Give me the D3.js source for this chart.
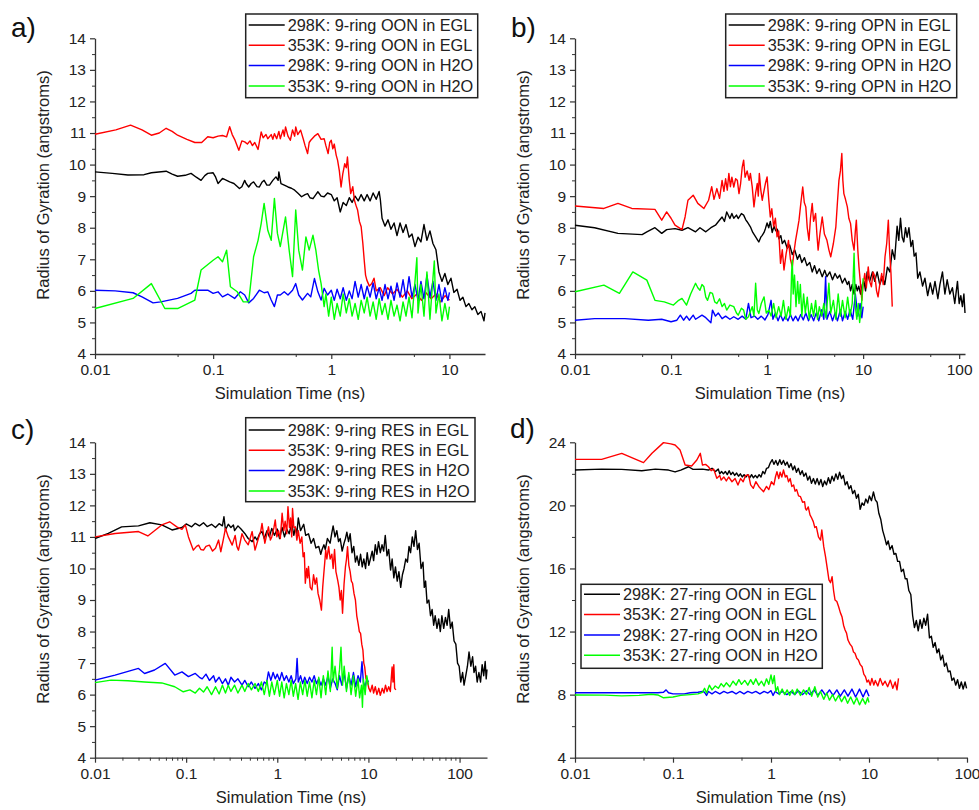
<!DOCTYPE html>
<html><head><meta charset="utf-8">
<script src="https://cdn.jsdelivr.net/npm/d3@7"></script>
<style>body{margin:0;background:#fff}svg{display:block}text{font-family:'Liberation Sans',Arial,sans-serif;fill:#222}</style>
</head><body><svg id="chart" width="979" height="810"></svg>
<script>
// ---------- data ----------
const xTickValues = [0.01, 0.1, 1, 10, 100];
const xTickLabels = ["0.01", "0.1", "1", "10", "100"];
const yTicks9 = [4, 5, 6, 7, 8, 9, 10, 11, 12, 13, 14];
const yTicks27 = [4, 8, 12, 16, 20, 24];
const seriesColors = ["#000000", "#ff0000", "#0000ff", "#00ff00"];
const legendA = ["298K: 9-ring OON in EGL", "353K: 9-ring OON in EGL", "298K: 9-ring OON in H2O", "353K: 9-ring OON in H2O"];
const legendB = ["298K: 9-ring OPN in EGL", "353K: 9-ring OPN in EGL", "298K: 9-ring OPN in H2O", "353K: 9-ring OPN in H2O"];
const legendC = ["298K: 9-ring RES in EGL", "353K: 9-ring RES in EGL", "298K: 9-ring RES in H2O", "353K: 9-ring RES in H2O"];
const legendD = ["298K: 27-ring OON in EGL", "353K: 27-ring OON in EGL", "298K: 27-ring OON in H2O", "353K: 27-ring OON in H2O"];

// panel a : 9-ring OON
const a298EGL = [[0.01,9.77],[0.014,9.72],[0.019,9.67],[0.026,9.68],[0.03,9.74],[0.04,9.79],[0.045,9.7],[0.05,9.63],[0.058,9.66],[0.065,9.72],[0.072,9.6],[0.079,9.5],[0.085,9.65],[0.09,9.72],[0.1,9.74],[0.105,9.6],[0.11,9.4],[0.12,9.56],[0.13,9.5],[0.138,9.45],[0.15,9.4],[0.167,9.24],[0.175,9.3],[0.185,9.5],[0.19,9.4],[0.2,9.29],[0.21,9.4],[0.22,9.45],[0.235,9.3],[0.246,9.29],[0.26,9.45],[0.27,9.5],[0.285,9.35],[0.3,9.35],[0.32,9.5],[0.34,9.61],[0.355,9.5],[0.36,9.77],[0.375,9.4],[0.4,9.35],[0.43,9.29],[0.46,9.25],[0.49,9.19],[0.52,9.1],[0.56,8.98],[0.6,9.05],[0.63,9.08],[0.66,8.95],[0.7,8.92],[0.74,9.05],[0.77,9.14],[0.82,9.0],[0.87,8.98],[0.93,9.1],[1.0,9.05],[1.06,8.85],[1.12,8.95],[1.19,8.5],[1.26,8.8],[1.34,8.7],[1.42,8.95],[1.5,8.8],[1.59,9.0],[1.69,8.85],[1.79,9.05],[1.9,8.85],[2.01,9.05],[2.13,8.85],[2.26,9.1],[2.4,8.9],[2.54,9.15],[2.6,8.9],[2.69,8.3],[2.85,8.05],[3.02,8.25],[3.2,7.95],[3.4,8.15],[3.6,7.75],[3.82,8.15],[4.05,7.85],[4.29,8.1],[4.55,7.7],[4.82,7.8],[5.11,7.4],[5.42,7.7],[5.74,7.55],[6.09,8.1],[6.45,7.6],[6.84,7.9],[7.25,7.5],[7.69,7.3],[8.15,6.6],[8.64,6.3],[9.15,6.55],[9.7,6.2],[10.3,6.4],[10.9,5.95],[11.6,6.05],[12.3,5.7],[13.0,5.8],[13.8,5.5],[14.6,5.6],[15.5,5.4],[16.4,5.5],[17.4,5.25],[18.5,5.35],[19.6,5.05],[20,5.3]];
const a353EGL = [[0.01,10.96],[0.015,11.1],[0.02,11.25],[0.025,11.1],[0.03,10.93],[0.035,11.0],[0.04,11.15],[0.045,11.05],[0.05,10.93],[0.06,10.8],[0.07,10.7],[0.08,10.7],[0.09,10.88],[0.1,10.85],[0.11,10.9],[0.12,10.92],[0.13,10.88],[0.138,11.2],[0.145,10.95],[0.152,10.8],[0.165,10.45],[0.175,10.75],[0.185,10.72],[0.195,10.65],[0.205,10.75],[0.215,10.6],[0.225,10.7],[0.24,10.48],[0.255,11.03],[0.265,10.85],[0.28,10.95],[0.29,10.82],[0.31,10.95],[0.32,10.8],[0.33,10.98],[0.345,10.82],[0.36,11.05],[0.37,10.82],[0.39,11.1],[0.4,10.9],[0.41,11.19],[0.43,10.9],[0.45,10.77],[0.47,11.1],[0.49,10.9],[0.5,11.19],[0.52,10.95],[0.55,11.09],[0.58,10.8],[0.6,10.6],[0.63,10.35],[0.65,10.7],[0.67,10.77],[0.72,10.9],[0.77,10.98],[0.82,10.8],[0.87,10.82],[0.9,10.6],[0.94,10.35],[0.97,10.7],[1.0,10.77],[1.03,10.5],[1.06,10.65],[1.1,10.3],[1.13,10.14],[1.17,9.8],[1.21,9.29],[1.25,9.7],[1.3,10.03],[1.34,9.9],[1.37,10.24],[1.42,9.5],[1.46,9.08],[1.52,9.3],[1.57,8.87],[1.62,8.7],[1.67,8.56],[1.73,8.2],[1.79,8.03],[1.85,7.5],[1.9,6.97],[1.95,6.5],[2.0,6.34],[2.1,6.15],[2.2,6.23],[2.3,6.4],[2.4,6.0],[2.6,6.1],[2.8,5.85],[3.0,6.1],[3.3,5.9],[3.6,6.05],[4.0,5.8],[4.4,6.0],[4.8,5.75],[5.3,5.9],[5.8,5.7],[6.3,5.95],[7.0,5.75],[7.7,5.9],[8.4,5.65],[9.2,5.85],[10,5.7]];
const a298H2O = [[0.01,6.02],[0.0148,6.0],[0.021,5.94],[0.025,5.81],[0.031,5.62],[0.036,5.65],[0.05,5.76],[0.065,5.92],[0.07,6.02],[0.09,6.02],[0.1,5.92],[0.11,5.97],[0.12,5.81],[0.133,5.9],[0.152,5.76],[0.17,5.97],[0.185,5.87],[0.2,5.62],[0.22,5.76],[0.246,6.02],[0.27,5.94],[0.29,5.97],[0.31,5.71],[0.33,5.5],[0.35,5.87],[0.37,5.87],[0.4,5.97],[0.43,5.87],[0.47,6.02],[0.5,6.23],[0.53,5.87],[0.57,5.71],[0.63,5.92],[0.67,5.81],[0.72,6.39],[0.77,5.97],[0.82,5.71],[0.87,6.08],[0.93,5.87],[1.0,6.02],[1.06,5.7],[1.12,6.05],[1.19,5.75],[1.26,6.1],[1.34,5.7],[1.42,6.0],[1.5,5.75],[1.59,6.3],[1.69,5.8],[1.79,6.2],[1.9,5.75],[2.01,6.15],[2.13,5.8],[2.26,6.25],[2.4,5.75],[2.54,6.1],[2.69,5.7],[2.85,6.2],[3.02,5.75],[3.2,6.15],[3.4,5.7],[3.6,6.25],[3.82,5.8],[4.05,6.35],[4.29,5.75],[4.55,6.45],[4.82,5.8],[5.11,6.2],[5.42,5.7],[5.74,6.3],[6.09,5.75],[6.45,6.5],[6.84,5.8],[7.25,6.3],[7.69,5.7],[8.15,6.2],[8.64,5.65],[9.15,6.1],[9.7,5.7],[10,5.95]];
const a353H2O = [[0.01,5.44],[0.021,5.76],[0.03,6.23],[0.039,5.44],[0.05,5.44],[0.07,5.71],[0.079,6.66],[0.1,6.97],[0.11,7.08],[0.12,6.92],[0.13,7.29],[0.14,6.13],[0.16,5.97],[0.18,5.65],[0.2,5.65],[0.22,7.08],[0.24,7.6],[0.255,8.13],[0.27,8.77],[0.29,7.92],[0.31,7.6],[0.33,8.93],[0.35,7.82],[0.37,7.4],[0.41,8.34],[0.44,7.29],[0.47,6.45],[0.5,8.56],[0.53,7.29],[0.57,6.66],[0.61,7.71],[0.65,7.29],[0.7,7.76],[0.74,7.29],[0.78,6.66],[0.82,6.23],[0.87,5.5],[0.9,5.9],[0.95,5.2],[1.0,5.8],[1.06,5.1],[1.12,5.6],[1.19,5.2],[1.26,5.9],[1.34,5.3],[1.42,5.75],[1.5,5.2],[1.59,5.6],[1.69,5.1],[1.79,5.7],[1.9,5.3],[2.01,5.8],[2.13,5.2],[2.26,5.65],[2.4,5.1],[2.54,5.75],[2.69,5.25],[2.85,5.6],[3.02,5.1],[3.2,5.7],[3.4,5.2],[3.6,5.55],[3.82,5.05],[4.05,5.65],[4.29,5.2],[4.55,5.8],[4.82,5.15],[5.11,6.3],[5.3,7.05],[5.42,5.3],[5.74,6.2],[6.09,5.2],[6.45,6.6],[6.84,5.1],[7.25,6.4],[7.45,6.95],[7.69,5.3],[8.15,5.9],[8.64,5.05],[9.15,5.6],[9.7,5.1],[10,5.5]];

// panel b : 9-ring OPN
const b298EGL = [[0.01,8.08],[0.016,8.0],[0.028,7.82],[0.05,7.78],[0.056,7.87],[0.068,8.0],[0.08,7.82],[0.09,7.94],[0.11,7.97],[0.13,7.92],[0.15,8.0],[0.18,7.87],[0.2,8.0],[0.23,7.87],[0.26,8.0],[0.29,8.08],[0.31,8.19],[0.34,8.34],[0.36,8.2],[0.38,8.5],[0.41,8.29],[0.43,8.45],[0.45,8.3],[0.48,8.4],[0.5,8.29],[0.54,8.45],[0.57,8.4],[0.6,8.25],[0.62,8.19],[0.67,8.03],[0.71,7.85],[0.76,7.71],[0.8,7.6],[0.82,7.55],[0.86,7.7],[0.89,7.76],[0.93,7.85],[0.96,7.97],[1.0,8.15],[1.04,8.0],[1.08,8.2],[1.13,7.85],[1.18,8.05],[1.23,7.9],[1.28,7.95],[1.33,7.65],[1.39,7.75],[1.44,7.5],[1.52,7.6],[1.62,7.35],[1.72,7.45],[1.83,7.15],[1.94,7.3],[2.07,7.0],[2.18,7.15],[2.3,6.9],[2.45,7.05],[2.6,6.8],[2.78,6.9],[2.95,6.6],[3.12,6.8],[3.3,6.55],[3.5,6.7],[3.75,6.45],[3.98,6.65],[4.2,6.45],[4.5,6.6],[4.8,6.35],[5.1,6.55],[5.4,6.4],[5.7,6.5],[6.07,6.25],[6.45,6.4],[6.85,6.2],[7.1,6.3],[7.4,6.0],[7.7,6.2],[8.05,5.9],[8.4,6.2],[8.7,6.0],[9.0,6.15],[9.4,5.9],[9.8,6.2],[10.2,6.3],[10.6,6.0],[11,6.6],[11.7,6.3],[12.5,6.6],[13.2,6.3],[14,6.6],[14.9,6.2],[15.9,6.45],[16.8,6.2],[17.9,6.75],[19,6.6],[20.1,7.3],[21.3,7.0],[22.6,8.05],[23.5,7.6],[24.5,8.3],[25.5,7.7],[26.5,7.55],[27.6,8.0],[28.7,7.7],[30,8.0],[31.5,7.4],[32.8,7.6],[34,7.1],[35.5,7.2],[37,6.4],[39,6.6],[41.6,6.15],[44,6.4],[47,5.85],[50,6.25],[53,5.9],[56,6.3],[60,5.75],[63,6.2],[67,6.6],[71,5.9],[75,6.35],[80,5.9],[85,6.1],[90,5.6],[96,6.3],[100,5.6],[104,5.85],[108,5.5],[112,5.9],[115,5.3]];
const b353EGL = [[0.01,8.69],[0.02,8.61],[0.028,8.77],[0.039,8.61],[0.068,8.58],[0.08,8.24],[0.09,8.5],[0.1,8.3],[0.11,8.08],[0.13,7.94],[0.14,8.34],[0.15,8.87],[0.17,9.03],[0.19,8.77],[0.22,8.61],[0.246,8.87],[0.265,9.3],[0.28,8.9],[0.3,9.24],[0.32,8.93],[0.34,9.5],[0.355,9.15],[0.37,9.55],[0.385,9.19],[0.4,9.72],[0.415,9.3],[0.43,9.6],[0.45,9.29],[0.47,9.55],[0.49,9.5],[0.51,9.08],[0.53,9.4],[0.55,9.9],[0.57,10.14],[0.59,9.6],[0.62,9.8],[0.65,9.5],[0.67,9.72],[0.7,9.3],[0.73,8.66],[0.76,9.1],[0.79,9.4],[0.81,9.0],[0.83,9.72],[0.86,9.2],[0.89,8.87],[0.92,9.1],[0.96,9.4],[1.0,9.61],[1.04,8.9],[1.08,8.34],[1.12,8.6],[1.17,8.03],[1.22,8.3],[1.27,7.71],[1.32,7.9],[1.38,6.87],[1.44,7.3],[1.5,6.66],[1.55,7.0],[1.58,7.19],[1.63,7.4],[1.67,7.6],[1.75,7.0],[1.83,6.76],[1.9,7.2],[1.98,7.6],[2.06,7.9],[2.15,8.24],[2.25,8.8],[2.35,9.29],[2.44,8.8],[2.53,8.66],[2.62,8.0],[2.73,7.6],[2.83,8.3],[2.95,8.77],[3.05,8.2],[3.2,8.45],[3.3,7.8],[3.4,7.29],[3.55,7.8],[3.75,8.34],[3.95,7.8],[4.2,7.6],[4.4,7.3],[4.6,7.08],[4.9,7.5],[5.2,8.03],[5.4,8.8],[5.6,9.5],[5.8,9.8],[6.0,10.35],[6.15,9.5],[6.3,9.08],[6.55,8.9],[6.85,8.66],[7.1,8.3],[7.4,8.13],[7.7,7.6],[8.05,7.29],[8.3,7.9],[8.5,8.24],[8.8,7.3],[9.05,6.76],[9.4,6.2],[9.7,5.7],[10.0,6.2],[10.4,6.55],[10.8,6.1],[11.3,6.76],[11.7,6.3],[12.2,6.13],[12.7,6.6],[13.3,6.45],[13.8,6.0],[14.3,5.81],[14.9,6.2],[15.6,6.55],[16.2,6.2],[16.9,7.08],[17.6,7.5],[18.3,8.24],[18.9,7.2],[19.5,6.55],[20.1,5.5]];
const b298H2O = [[0.01,5.07],[0.016,5.12],[0.033,5.12],[0.058,5.07],[0.08,5.1],[0.1,5.02],[0.115,5.07],[0.125,5.23],[0.135,5.07],[0.145,5.2],[0.155,5.07],[0.17,5.23],[0.18,5.1],[0.21,5.23],[0.23,5.15],[0.26,4.99],[0.27,5.39],[0.29,5.2],[0.31,5.3],[0.34,5.12],[0.37,5.2],[0.41,5.1],[0.45,5.18],[0.5,5.1],[0.55,5.2],[0.6,5.1],[0.64,5.6],[0.68,5.15],[0.74,5.2],[0.8,5.1],[0.87,5.2],[0.95,5.08],[1.02,5.25],[1.1,5.7],[1.15,5.1],[1.22,5.3],[1.3,5.05],[1.38,5.25],[1.46,5.05],[1.55,5.2],[1.65,5.05],[1.75,5.25],[1.86,5.05],[1.98,5.2],[2.1,5.05],[2.24,5.25],[2.38,5.08],[2.53,5.3],[2.7,5.05],[2.87,5.25],[3.05,5.05],[3.25,5.3],[3.45,5.05],[3.7,5.4],[3.9,5.1],[4.07,6.45],[4.2,5.1],[4.5,5.35],[4.8,5.05],[5.1,5.3],[5.4,5.05],[5.8,5.4],[6.1,5.05],[6.5,5.35],[6.9,5.1],[7.3,5.4],[7.8,5.1],[8.3,5.9],[8.8,5.2],[9.3,5.6],[9.7,5.15],[10,5.5]];
const b353H2O = [[0.01,5.97],[0.02,6.18],[0.029,5.92],[0.04,6.6],[0.056,6.34],[0.068,5.7],[0.085,5.65],[0.106,5.55],[0.12,5.7],[0.13,5.76],[0.145,5.55],[0.16,5.9],[0.18,6.24],[0.19,6.1],[0.2,6.02],[0.21,6.2],[0.22,6.13],[0.23,5.8],[0.24,5.7],[0.255,5.95],[0.27,5.92],[0.285,5.65],[0.3,5.6],[0.32,5.75],[0.34,5.5],[0.36,5.6],[0.38,5.39],[0.41,5.55],[0.45,5.5],[0.48,5.3],[0.5,5.23],[0.54,5.45],[0.57,5.39],[0.6,5.1],[0.64,5.18],[0.7,5.5],[0.73,5.2],[0.76,6.24],[0.79,5.4],[0.82,5.28],[0.87,5.6],[0.93,5.81],[0.98,5.3],[1.04,5.39],[1.1,5.2],[1.17,5.6],[1.24,5.15],[1.32,5.5],[1.4,5.2],[1.48,5.7],[1.57,5.1],[1.67,5.5],[1.75,5.2],[1.8,6.6],[1.83,6.97],[1.87,5.9],[1.93,6.5],[2.0,5.5],[2.08,6.3],[2.15,5.6],[2.22,6.2],[2.3,5.2],[2.4,5.9],[2.5,5.3],[2.62,5.8],[2.75,5.1],[2.9,5.6],[3.05,5.2],[3.2,5.7],[3.35,5.1],[3.5,5.5],[3.7,5.2],[3.9,5.6],[4.1,5.15],[4.4,6.24],[4.6,5.3],[4.9,5.7],[5.2,5.1],[5.5,5.9],[5.8,5.2],[6.1,5.7],[6.5,5.15],[6.9,5.8],[7.3,5.2],[7.7,5.6],[8.05,7.19],[8.3,5.5],[8.6,5.1],[8.9,5.6],[9.2,5.0],[9.6,5.5],[10,6.4]];

// panel c : 9-ring RES
const c298EGL = [[0.01,10.95],[0.014,11.11],[0.0196,11.32],[0.03,11.35],[0.04,11.45],[0.054,11.38],[0.07,11.22],[0.09,11.3],[0.1,11.41],[0.115,11.32],[0.126,11.43],[0.14,11.35],[0.155,11.45],[0.17,11.33],[0.19,11.4],[0.21,11.3],[0.23,11.42],[0.25,11.35],[0.26,11.64],[0.27,11.22],[0.29,11.4],[0.31,11.3],[0.33,11.38],[0.34,11.2],[0.37,11.35],[0.4,11.25],[0.44,11.11],[0.48,10.95],[0.53,10.85],[0.57,11.0],[0.6,10.9],[0.64,11.1],[0.68,11.17],[0.72,10.95],[0.77,11.2],[0.82,11.0],[0.87,11.27],[0.93,11.05],[1.0,11.25],[1.06,10.95],[1.13,11.3],[1.2,11.0],[1.27,11.25],[1.35,11.1],[1.44,11.43],[1.52,11.05],[1.58,11.3],[1.64,11.1],[1.7,11.6],[1.8,11.2],[1.95,11.4],[2.05,11.05],[2.2,11.1],[2.35,10.8],[2.5,10.95],[2.65,10.65],[2.85,10.7],[3.0,10.45],[3.1,10.6],[3.25,10.75],[3.36,10.6],[3.55,10.95],[3.8,10.8],[3.95,11.1],[4.1,11.35],[4.3,11.0],[4.5,11.2],[4.7,10.85],[4.9,10.95],[5.15,10.55],[5.4,10.8],[5.6,10.95],[5.8,11.15],[6.05,10.85],[6.3,11.1],[6.6,10.5],[6.9,10.7],[7.2,10.2],[7.5,10.4],[7.85,10.1],[8.2,10.45],[8.55,10.05],[8.9,10.3],[9.3,10.0],[9.7,10.5],[10.1,10.1],[10.5,10.3],[11.0,10.55],[11.4,10.25],[11.9,10.75],[12.4,10.45],[12.9,10.85],[13.5,10.5],[14.1,10.75],[14.7,10.55],[15.3,11.05],[16.0,10.4],[16.7,10.6],[17.5,9.95],[18.2,10.3],[19.0,9.7],[19.8,10.05],[20.7,9.6],[21.6,9.9],[22.6,9.4],[23.6,9.8],[24.6,10.0],[25.7,10.3],[26.8,10.2],[27.9,10.7],[29,10.5],[30.3,11.0],[31.6,10.7],[33,11.2],[34.5,10.6],[36,10.8],[37.8,10.0],[39.7,10.2],[41,9.4],[42.4,9.6],[44,8.9],[46,9.0],[48,8.5],[50,8.7],[52,8.2],[54,8.5],[56.5,8.1],[59,8.4],[61.5,8.0],[64,8.5],[67,8.1],[70,8.45],[73,8.2],[76,8.7],[79.5,8.1],[83,8.3],[87,7.7],[91,7.6],[95,7.0],[99,6.9],[103,6.4],[108,6.7],[112,6.3],[117,6.6],[122,6.9],[127,7.35],[133,6.9],[139,7.2],[144,6.7],[150,6.9],[156,6.4],[163,6.7],[170,6.4],[177,6.95],[184,6.6],[191,7.05],[196,6.5],[200,6.8]];
const c353EGL = [[0.01,11.0],[0.0166,11.11],[0.03,11.17],[0.038,11.03],[0.054,11.38],[0.066,11.48],[0.079,11.32],[0.09,11.24],[0.098,11.38],[0.106,11.0],[0.12,10.58],[0.13,10.7],[0.137,10.74],[0.145,10.6],[0.155,10.58],[0.165,10.7],[0.18,10.74],[0.195,10.55],[0.21,10.64],[0.227,10.9],[0.24,10.53],[0.255,10.9],[0.27,11.27],[0.29,11.0],[0.32,10.74],[0.345,11.05],[0.36,10.7],[0.375,10.58],[0.39,10.8],[0.41,11.1],[0.44,10.9],[0.48,10.75],[0.53,11.17],[0.57,10.58],[0.62,10.95],[0.66,11.2],[0.68,11.43],[0.73,10.8],[0.8,11.32],[0.84,10.9],[0.87,11.0],[0.92,11.3],[0.95,11.54],[0.99,11.0],[1.03,11.2],[1.08,10.95],[1.13,11.75],[1.18,11.2],[1.22,11.5],[1.27,11.1],[1.31,11.96],[1.36,11.3],[1.4,11.6],[1.44,11.0],[1.47,11.9],[1.52,11.3],[1.58,11.32],[1.64,10.9],[1.7,11.2],[1.78,10.8],[1.86,11.0],[1.92,10.37],[1.98,10.5],[2.03,9.53],[2.1,10.0],[2.15,9.7],[2.2,10.06],[2.3,9.4],[2.4,9.32],[2.5,9.8],[2.6,9.5],[2.7,9.7],[2.8,9.21],[2.92,9.0],[3.05,8.68],[3.15,9.4],[3.24,9.84],[3.32,10.2],[3.4,10.58],[3.5,10.3],[3.66,10.69],[3.8,10.3],[3.97,10.45],[4.1,10.0],[4.25,10.6],[4.4,9.9],[4.6,9.63],[4.75,9.4],[4.9,9.0],[5.05,9.3],[5.2,8.58],[5.4,9.5],[5.6,10.06],[5.75,10.3],[5.9,10.69],[6.1,10.1],[6.3,9.9],[6.5,9.6],[6.7,9.53],[6.95,9.2],[7.2,9.0],[7.45,8.5],[7.7,8.26],[7.95,8.0],[8.2,7.94],[8.45,7.6],[8.7,7.41],[8.9,7.0],[9.1,6.88],[9.4,6.5],[9.7,6.46],[10.1,6.2],[10.5,6.09],[11.0,6.3],[11.4,6.05],[11.9,6.25],[12.4,6.0],[13.0,6.2],[13.5,5.98],[14.2,6.2],[14.8,6.05],[15.4,6.3],[16.0,6.1],[16.7,6.25],[17.4,6.1],[17.8,6.5],[18.2,6.88],[18.6,6.4],[19.0,6.95],[19.4,6.2],[20,6.15]];
const c298H2O = [[0.01,6.46],[0.0166,6.62],[0.03,6.83],[0.035,6.67],[0.045,6.78],[0.059,6.99],[0.075,6.62],[0.09,6.72],[0.106,6.57],[0.126,6.67],[0.14,6.55],[0.15,6.5],[0.165,6.65],[0.18,6.45],[0.2,6.6],[0.21,6.4],[0.23,6.55],[0.25,6.35],[0.27,6.5],[0.29,6.3],[0.31,6.55],[0.34,6.4],[0.37,6.5],[0.41,6.3],[0.44,6.45],[0.48,6.25],[0.52,6.4],[0.57,6.2],[0.62,6.35],[0.67,6.15],[0.72,6.4],[0.76,6.35],[0.8,6.72],[0.85,6.45],[0.9,6.7],[0.95,6.5],[1.0,6.65],[1.06,6.45],[1.12,6.7],[1.19,6.45],[1.26,6.6],[1.34,6.4],[1.42,6.6],[1.5,6.35],[1.6,6.5],[1.65,7.15],[1.7,6.4],[1.8,6.6],[1.9,6.35],[2.0,6.55],[2.13,6.35],[2.26,6.55],[2.4,6.4],[2.54,6.6],[2.69,6.35],[2.85,6.5],[3.02,6.3],[3.2,6.5],[3.4,6.3],[3.6,6.6],[3.82,6.2],[4.05,6.5],[4.3,6.36],[4.55,6.15],[4.82,6.6],[5.1,6.3],[5.4,6.7],[5.75,6.2],[6.1,6.6],[6.45,6.3],[6.85,6.7],[7.25,6.25],[7.7,6.6],[8.15,6.4],[8.5,7.04],[8.8,6.4],[9.2,6.25],[9.6,6.5],[10,6.4]];
const c353H2O = [[0.01,6.38],[0.015,6.46],[0.023,6.44],[0.035,6.4],[0.054,6.37],[0.075,6.25],[0.093,6.09],[0.11,6.15],[0.126,6.05],[0.14,6.2],[0.155,6.08],[0.17,6.25],[0.19,6.0],[0.21,6.25],[0.23,6.02],[0.25,6.3],[0.27,6.05],[0.29,6.3],[0.31,6.1],[0.34,6.3],[0.37,6.05],[0.41,6.3],[0.44,6.1],[0.48,6.35],[0.52,6.15],[0.57,6.35],[0.62,6.1],[0.67,6.4],[0.72,6.0],[0.77,6.45],[0.82,5.95],[0.87,6.4],[0.93,6.0],[1.0,6.45],[1.06,5.95],[1.12,6.4],[1.19,5.9],[1.26,6.35],[1.34,6.0],[1.42,6.45],[1.5,5.95],[1.59,6.35],[1.69,5.85],[1.79,6.4],[1.9,6.0],[2.01,6.45],[2.13,5.95],[2.26,6.4],[2.4,5.9],[2.54,6.45],[2.69,6.0],[2.85,6.55],[3.02,5.9],[3.2,6.6],[3.4,6.0],[3.6,6.75],[3.82,6.1],[4.0,7.5],[4.1,6.4],[4.3,6.9],[4.55,6.2],[4.82,6.8],[5.0,7.5],[5.2,6.3],[5.42,6.9],[5.74,6.1],[6.09,6.7],[6.45,6.0],[6.84,6.6],[7.25,5.95],[7.69,6.5],[8.0,5.9],[8.4,6.3],[8.6,5.6],[8.8,6.5],[9.2,6.0],[9.6,6.6],[10,6.3]];

// panel d : 27-ring OON
const d298EGL = [[0.01,22.24],[0.0187,22.3],[0.03,22.28],[0.048,22.2],[0.066,22.3],[0.09,22.24],[0.105,22.12],[0.12,22.24],[0.144,22.45],[0.16,22.28],[0.2,22.3],[0.23,22.24],[0.25,22.35],[0.27,22.14],[0.29,22.3],[0.3,22.0],[0.313,22.15],[0.327,22.0],[0.342,22.15],[0.358,21.95],[0.374,22.2],[0.39,21.95],[0.408,22.1],[0.426,21.9],[0.446,22.05],[0.466,21.85],[0.487,22.0],[0.509,21.8],[0.531,21.95],[0.555,21.8],[0.58,21.95],[0.606,21.75],[0.634,21.95],[0.662,21.75],[0.692,21.9],[0.723,21.75],[0.756,21.95],[0.79,21.8],[0.825,22.15],[0.862,22.0],[0.901,22.35],[0.942,22.4],[0.984,22.7],[1.03,22.9],[1.07,22.6],[1.12,22.85],[1.17,22.55],[1.23,22.9],[1.28,22.6],[1.34,22.85],[1.4,22.55],[1.46,22.75],[1.53,22.4],[1.6,22.65],[1.67,22.25],[1.74,22.5],[1.82,22.1],[1.9,22.35],[1.99,21.95],[2.08,22.2],[2.17,21.85],[2.27,22.05],[2.37,21.6],[2.48,21.85],[2.59,21.4],[2.71,21.7],[2.83,21.35],[2.96,21.7],[3.09,21.3],[3.23,21.65],[3.37,21.2],[3.52,21.55],[3.68,21.3],[3.85,21.75],[4.02,21.4],[4.2,21.85],[4.39,21.55],[4.59,22.0],[4.8,21.65],[5.01,22.1],[5.24,21.7],[5.47,21.9],[5.72,21.3],[5.98,21.5],[6.25,21.05],[6.53,21.25],[6.82,20.75],[7.13,20.95],[7.45,20.45],[7.78,20.7],[8.13,19.75],[8.5,20.15],[8.88,20.0],[9.28,20.4],[9.7,20.15],[10.1,20.6],[10.6,20.3],[11.1,20.85],[11.6,20.35],[12.1,20.2],[12.6,19.5],[13.2,19.1],[13.8,18.4],[14.4,18.0],[15.1,17.5],[15.7,17.75],[16.4,17.2],[17.2,17.45],[18.0,16.9],[18.8,16.95],[19.6,16.45],[20.5,16.45],[21.4,15.8],[22.4,15.95],[23.4,15.35],[24.4,15.35],[25.5,14.6],[26.7,14.35],[27.9,13.0],[29.1,12.25],[30.4,12.7],[31.8,12.05],[33.2,12.75],[34.7,12.2],[36.3,12.85],[37.9,12.4],[39.6,13.1],[41.4,11.6],[43.3,11.7],[45.2,11.0],[47.3,11.3],[49.4,10.65],[51.6,10.9],[53.9,10.2],[56.4,10.5],[58.9,9.8],[61.5,10.0],[64.3,9.45],[67.2,9.5],[70.2,8.9],[73.4,9.05],[76.7,8.6],[80.1,8.95],[83.7,8.4],[87.5,8.8],[91.4,8.35],[95.5,8.8],[99,8.4]];
const d353EGL = [[0.01,22.92],[0.0187,22.92],[0.03,23.3],[0.05,22.71],[0.061,23.3],[0.08,23.98],[0.095,23.9],[0.105,23.83],[0.118,23.51],[0.133,22.56],[0.155,22.5],[0.175,22.88],[0.19,23.3],[0.2,22.56],[0.215,22.6],[0.23,22.45],[0.245,22.2],[0.26,22.3],[0.28,21.72],[0.3,21.9],[0.31,21.6],[0.33,21.8],[0.35,21.55],[0.37,21.8],[0.4,21.5],[0.43,21.7],[0.46,21.29],[0.49,21.7],[0.52,21.5],[0.55,21.9],[0.59,21.93],[0.62,21.3],[0.66,21.08],[0.7,21.5],[0.75,21.2],[0.8,21.0],[0.84,20.87],[0.9,21.2],[0.95,21.0],[1.01,21.5],[1.07,21.3],[1.11,21.8],[1.15,22.14],[1.2,21.7],[1.24,22.1],[1.29,21.8],[1.34,22.24],[1.4,21.8],[1.45,21.9],[1.51,21.5],[1.57,21.7],[1.63,21.2],[1.7,21.29],[1.76,20.9],[1.83,21.0],[1.91,20.6],[2.0,20.55],[2.1,20.2],[2.2,20.23],[2.25,19.8],[2.3,19.7],[2.4,19.9],[2.5,19.4],[2.6,19.2],[2.7,18.97],[2.8,18.6],[2.9,18.65],[3.05,18.0],[3.2,17.8],[3.3,18.44],[3.45,17.4],[3.6,16.75],[3.75,16.0],[3.9,15.27],[4.05,15.1],[4.2,15.48],[4.35,14.6],[4.5,14.0],[4.7,13.9],[4.9,13.57],[5.1,13.2],[5.3,12.94],[5.5,12.4],[5.7,12.1],[5.9,11.9],[6.1,11.46],[6.4,11.2],[6.7,11.04],[6.95,10.7],[7.2,10.62],[7.5,10.3],[7.8,10.19],[8.15,9.9],[8.5,9.77],[8.85,9.3],[9.2,9.14],[9.55,8.8],[9.9,8.92],[10.3,8.6],[10.7,9.03],[11.2,8.6],[11.6,8.9],[12.3,8.55],[13,9.03],[13.8,8.6],[14.6,8.85],[15.5,8.5],[16.5,8.92],[17.5,8.4],[18.5,8.8],[19.3,8.3],[20,9.03]];
const d298H2O = [[0.01,8.12],[0.03,8.12],[0.07,8.12],[0.08,8.15],[0.085,8.3],[0.09,8.12],[0.1,8.05],[0.13,8.05],[0.15,8.12],[0.18,8.15],[0.2,8.2],[0.21,8.15],[0.22,7.95],[0.23,8.2],[0.25,8.05],[0.27,8.2],[0.3,8.05],[0.33,8.2],[0.36,8.1],[0.4,8.2],[0.44,8.05],[0.48,8.2],[0.53,8.05],[0.58,8.2],[0.64,8.1],[0.7,8.2],[0.77,8.05],[0.85,8.2],[0.93,8.1],[1.0,8.25],[1.05,7.95],[1.1,8.2],[1.2,8.05],[1.3,8.2],[1.45,8.0],[1.6,8.2],[1.75,8.0],[1.9,8.25],[2.1,8.0],[2.3,8.25],[2.5,8.0],[2.75,8.3],[3.0,7.95],[3.3,8.3],[3.6,7.95],[3.95,8.3],[4.3,7.95],[4.7,8.3],[5.1,7.9],[5.6,8.3],[6.1,7.9],[6.7,8.35],[7.3,7.85],[8.0,8.35],[8.7,7.85],[9.4,8.3],[10,7.9]];
const d353H2O = [[0.01,7.98],[0.02,7.97],[0.03,7.92],[0.045,7.95],[0.06,8.02],[0.07,7.98],[0.08,7.8],[0.1,7.85],[0.12,7.95],[0.15,8.0],[0.18,8.05],[0.2,8.15],[0.21,8.4],[0.22,8.1],[0.235,8.6],[0.25,8.3],[0.27,8.55],[0.29,8.4],[0.31,8.7],[0.33,8.5],[0.35,8.75],[0.38,8.5],[0.41,8.85],[0.44,8.6],[0.47,8.95],[0.5,8.65],[0.54,8.9],[0.58,8.6],[0.62,8.95],[0.66,8.65],[0.7,9.0],[0.75,8.6],[0.8,8.85],[0.85,8.55],[0.9,9.0],[0.95,8.65],[1.0,9.25],[1.04,8.7],[1.08,9.2],[1.12,8.2],[1.17,8.5],[1.22,8.0],[1.3,8.35],[1.38,8.0],[1.46,8.3],[1.55,7.95],[1.65,8.3],[1.75,8.0],[1.85,8.35],[2.0,7.95],[2.15,8.3],[2.3,8.0],[2.45,8.45],[2.6,7.9],[2.8,8.5],[3.0,7.85],[3.2,8.2],[3.45,7.7],[3.7,8.1],[3.95,7.65],[4.25,8.0],[4.55,7.6],[4.9,7.95],[5.25,7.55],[5.65,7.9],[6.05,7.45],[6.5,7.85],[7.0,7.4],[7.5,7.8],[8.0,7.35],[8.6,7.75],[9.2,7.4],[9.7,7.8],[10,7.5]];

// ---------- layout ----------
const panels = [
  {letter:"a)", lx:11, ly:37, left:95, right:485, top:38.3, bottom:354, xmax:20, ymin:4, ymax:14, yTicks:yTicks9, yMinorStep:1, xMinor:"five", ytx:43, yty:185,
   legend:{x:245.7, y:14, w:232, h:83.7, first:11}, names:legendA, series:[a298EGL,a353EGL,a298H2O,a353H2O]},
  {letter:"b)", lx:511, ly:37, left:575, right:965, top:38.3, bottom:354, xmax:115, ymin:4, ymax:14, yTicks:yTicks9, yMinorStep:1, xMinor:"five", ytx:523, yty:185,
   legend:{x:725.7, y:14, w:231, h:83.7, first:11}, names:legendB, series:[b298EGL,b353EGL,b298H2O,b353H2O]},
  {letter:"c)", lx:11, ly:439, left:95, right:487, top:442.3, bottom:757.7, xmax:200, ymin:4, ymax:14, yTicks:yTicks9, yMinorStep:1, xMinor:"all", ytx:43, yty:589,
   legend:{x:245.7, y:417.7, w:229.3, h:84, first:12.3}, names:legendC, series:[c298EGL,c353EGL,c298H2O,c353H2O]},
  {letter:"d)", lx:510, ly:438, left:575, right:967, top:442.3, bottom:757.7, xmax:100, ymin:4, ymax:24, yTicks:yTicks27, yMinorStep:4, xMinor:"five", ytx:523, yty:589,
   legend:{x:581, y:584.3, w:241.3, h:84, first:10}, names:legendD, series:[d298EGL,d353EGL,d298H2O,d353H2O]}
];

const svg = d3.select("#chart");
const FONT = "'Liberation Sans', Arial, sans-serif";

panels.forEach(p => {
  const x = d3.scaleLog().domain([0.01, p.xmax]).range([p.left, p.right]);
  const y = d3.scaleLinear().domain([p.ymin, p.ymax]).range([p.bottom, p.top]);
  const g = svg.append("g");

  // minor ticks
  let xMinorVals = [];
  xTickValues.forEach(d => {
    const ks = p.xMinor === "all" ? [2,3,4,5,6,7,8,9] : [5];
    ks.forEach(k => { const v = d * k; if (v < p.xmax * 0.999) xMinorVals.push(v); });
  });
  const yMinorVals = [];
  for (let i = 0; i < p.yTicks.length - 1; i++) yMinorVals.push(p.yTicks[i] + p.yMinorStep / 2);

  const xMin = g.append("g").attr("transform", `translate(0,${p.bottom})`)
    .call(d3.axisBottom(x).tickValues(xMinorVals).tickSize(3).tickFormat("").tickSizeOuter(0));
  const yMin = g.append("g").attr("transform", `translate(${p.left},0)`)
    .call(d3.axisLeft(y).tickValues(yMinorVals).tickSize(3).tickFormat("").tickSizeOuter(0));
  [xMin, yMin].forEach(a => { a.select(".domain").remove(); a.selectAll("line").attr("stroke", "#333").attr("stroke-width", 1); });

  // major axes
  const xVals = xTickValues.filter(v => v <= p.xmax * 1.001);
  const xAxis = g.append("g").attr("transform", `translate(0,${p.bottom})`)
    .call(d3.axisBottom(x).tickValues(xVals).tickSize(5).tickPadding(5).tickSizeOuter(0)
      .tickFormat(d => xTickLabels[xTickValues.indexOf(d)]));
  const yAxis = g.append("g").attr("transform", `translate(${p.left},0)`)
    .call(d3.axisLeft(y).tickValues(p.yTicks).tickSize(5).tickPadding(4).tickSizeOuter(0).tickFormat(d3.format("d")));
  [xAxis, yAxis].forEach(a => {
    a.attr("font-family", FONT).attr("font-size", 15.5);
    a.select(".domain").attr("stroke", "#333").attr("stroke-width", 1.3);
    a.selectAll(".tick line").attr("stroke", "#333").attr("stroke-width", 1.2);
    a.selectAll(".tick text").attr("fill", "#222");
  });

  // data lines
  const line = d3.line().x(d => x(d[0])).y(d => y(d[1]));
  p.series.forEach((s, i) => {
    g.append("path").datum(s).attr("d", line).attr("fill", "none")
      .attr("stroke", seriesColors[i]).attr("stroke-width", 1.4).attr("stroke-linejoin", "round");
  });

  // axis titles
  g.append("text").attr("x", (p.left + p.right) / 2).attr("y", p.bottom + 45)
    .attr("text-anchor", "middle").attr("font-size", 16.5).attr("font-family", FONT).text("Simulation Time (ns)");
  g.append("text").attr("transform", `translate(${p.ytx},${p.yty}) rotate(-90)`)
    .attr("text-anchor", "middle").attr("dy", "0.35em").attr("font-size", 16.5).attr("font-family", FONT)
    .text("Radius of Gyration (angstroms)");

  // panel letter
  g.append("text").attr("x", p.lx).attr("y", p.ly).attr("font-size", 28).attr("font-family", FONT)
    .style("fill", "#111").text(p.letter);

  // legend
  const L = p.legend;
  const lg = g.append("g");
  lg.append("rect").attr("x", L.x).attr("y", L.y).attr("width", L.w).attr("height", L.h)
    .attr("fill", "#fff").attr("stroke", "#222").attr("stroke-width", 1.5);
  p.names.forEach((n, i) => {
    const cy = L.y + L.first + i * 20.3;
    lg.append("line").attr("x1", L.x + 3).attr("x2", L.x + 39).attr("y1", cy).attr("y2", cy)
      .attr("stroke", seriesColors[i]).attr("stroke-width", 1.5);
    lg.append("text").attr("x", L.x + 42).attr("y", cy).attr("dy", "0.35em")
      .attr("font-size", 16.3).attr("font-family", FONT).text(n);
  });
});
</script>
</body></html>
